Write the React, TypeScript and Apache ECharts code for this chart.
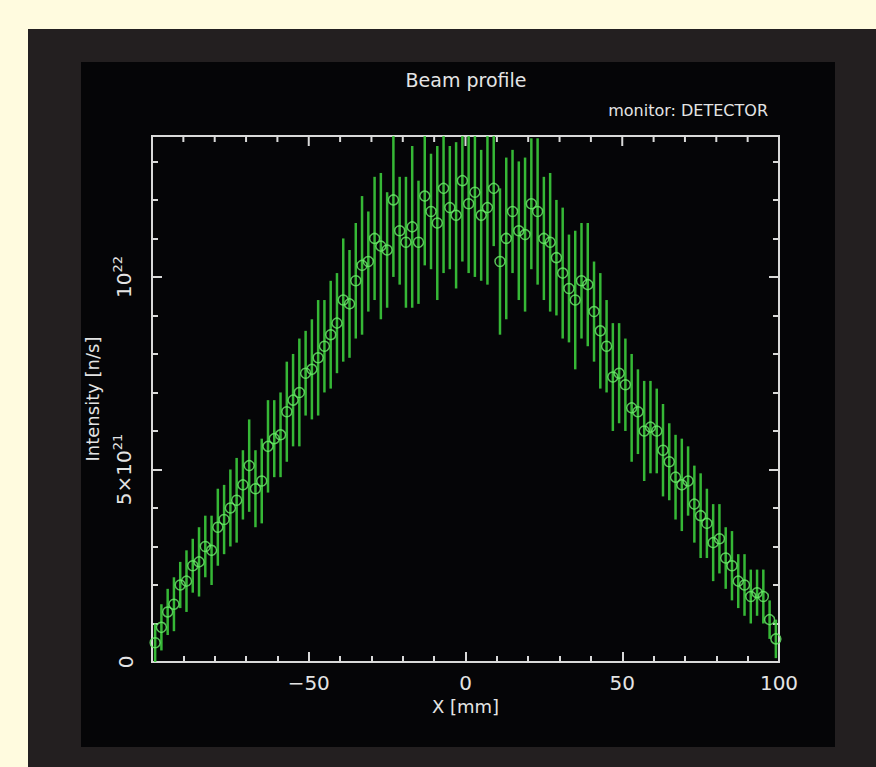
import React, { useEffect, useRef } from "react";
import * as echarts from "echarts";

// Bin centres (mm)
const xPos: number[] = [
  -99, -97, -95, -93, -91, -89, -87, -85, -83, -81,
  -79, -77, -75, -73, -71, -69, -67, -65, -63, -61,
  -59, -57, -55, -53, -51, -49, -47, -45, -43, -41,
  -39, -37, -35, -33, -31, -29, -27, -25, -23, -21,
  -19, -17, -15, -13, -11, -9, -7, -5, -3, -1,
  1, 3, 5, 7, 9, 11, 13, 15, 17, 19,
  21, 23, 25, 27, 29, 31, 33, 35, 37, 39,
  41, 43, 45, 47, 49, 51, 53, 55, 57, 59,
  61, 63, 65, 67, 69, 71, 73, 75, 77, 79,
  81, 83, 85, 87, 89, 91, 93, 95, 97, 99,
];

// Intensity in units of 1e21 n/s
const intensity: number[] = [
  0.5, 0.9, 1.3, 1.5, 2.0, 2.1, 2.5, 2.6, 3.0, 2.9,
  3.5, 3.7, 4.0, 4.2, 4.6, 5.1, 4.5, 4.7, 5.6, 5.8,
  5.9, 6.5, 6.8, 7.0, 7.5, 7.6, 7.9, 8.2, 8.5, 8.8,
  9.4, 9.3, 9.9, 10.3, 10.4, 11.0, 10.8, 10.7, 12.0, 11.2,
  10.9, 11.3, 10.9, 12.1, 11.7, 11.4, 12.3, 11.8, 11.6, 12.5,
  11.9, 12.2, 11.6, 11.8, 12.3, 10.4, 11.0, 11.7, 11.2, 11.1,
  11.9, 11.7, 11.0, 10.9, 10.5, 10.1, 9.7, 9.4, 9.9, 9.8,
  9.1, 8.6, 8.2, 7.4, 7.5, 7.2, 6.6, 6.5, 6.0, 6.1,
  6.0, 5.5, 5.2, 4.8, 4.6, 4.7, 4.1, 3.8, 3.6, 3.1,
  3.2, 2.7, 2.5, 2.1, 2.0, 1.7, 1.8, 1.7, 1.1, 0.6,
];

// Error (half length) in units of 1e21 n/s
const errors: number[] = [
  0.5, 0.6, 0.6, 0.7, 0.6, 0.8, 0.7, 0.9, 0.8, 0.9,
  1.0, 0.9, 1.0, 1.1, 0.9, 1.2, 1.0, 1.1, 1.2, 1.0,
  1.1, 1.3, 1.2, 1.4, 1.1, 1.3, 1.5, 1.2, 1.4, 1.3,
  1.6, 1.4, 1.5, 1.8, 1.3, 1.6, 1.9, 1.5, 2.0, 1.4,
  1.7, 2.1, 1.6, 1.8, 1.5, 2.0, 2.2, 1.6, 1.9, 2.1,
  1.8, 2.2, 1.7, 2.0, 1.5, 1.9, 2.1, 1.6, 1.8, 2.0,
  1.7, 1.9, 1.6, 1.8, 1.5, 1.7, 1.4, 1.8, 1.5, 1.6,
  1.3, 1.5, 1.2, 1.4, 1.3, 1.2, 1.4, 1.1, 1.3, 1.2,
  1.1, 1.2, 1.0, 1.1, 1.2, 0.9, 1.0, 1.1, 0.9, 1.0,
  0.9, 0.8, 0.9, 0.7, 0.8, 0.7, 0.6, 0.7, 0.5, 0.5,
];

// Tick positions along the top edge of the frame (mm); majors every 50
const topTicks: number[] = [-90, -80, -70, -60, -50, -40, -30, -20, -10, 0, 10, 20, 30, 40, 50, 60, 70, 80, 90];
const topMajor: number[] = [-50, 0, 50];

const xTickLabels: Record<number, string> = { [-50]: "\u221250", 0: "0", 50: "50", 100: "100" };
const yTickLabels: Record<number, string> = { 0: "{n|0}", 5: "{n|5×10}{s|21}", 10: "{n|10}{s|22}" };

const X_MIN = -100;
const X_MAX = 100;
const Y_MIN = 0;
const Y_MAX = 13.66;

const FONT = "DejaVu Sans";
const AXIS_COLOR = "#d9d9d9";
const TEXT_COLOR = "#e4e4e4";

export default function App() {
  const ref = useRef<HTMLDivElement>(null);
  useEffect(() => {
    if (!ref.current) return;
    const chart = echarts.init(ref.current, undefined, { renderer: "svg" });

    const points = xPos.map((x, i) => [x, intensity[i]]);
    const bars = xPos.map((x, i) => [x, intensity[i] - errors[i], intensity[i] + errors[i]]);
    const topTickData = topTicks.map((v) => [v, Y_MAX, topMajor.includes(v) ? 1 : 0]);

    const baseX = (major: boolean, show: boolean) => ({
      type: "value",
      position: "bottom",
      min: X_MIN,
      max: X_MAX,
      interval: major ? 50 : 10,
      axisLine: { show, lineStyle: { color: AXIS_COLOR, width: 2 } },
      axisTick: { show: true, inside: true, length: major ? 10 : 6, lineStyle: { color: AXIS_COLOR, width: 2 } },
      axisLabel: {
        show: major,
        color: TEXT_COLOR,
        fontFamily: FONT,
        fontSize: 20,
        margin: 11,
        formatter: (v: number) => xTickLabels[v] ?? "",
      },
      splitLine: { show: false },
    });

    const baseY = (pos: "left" | "right", major: boolean, show: boolean) => ({
      type: "value",
      position: pos,
      min: Y_MIN,
      max: Y_MAX,
      interval: major ? 5 : 1,
      axisLine: { show, onZero: false, lineStyle: { color: AXIS_COLOR, width: 2 } },
      axisTick: { show: true, inside: true, length: major ? 10 : 6, lineStyle: { color: AXIS_COLOR, width: 2 } },
      axisLabel: {
        show: pos === "left" && major,
        color: TEXT_COLOR,
        fontFamily: FONT,
        rotate: 90,
        margin: 16,
        showMaxLabel: false,
        formatter: (v: number) => yTickLabels[v] ?? "",
        rich: {
          n: { fontFamily: FONT, fontSize: 20, color: TEXT_COLOR },
          s: { fontFamily: FONT, fontSize: 13, color: TEXT_COLOR, verticalAlign: "top", padding: [0, 0, 12, 0] },
        },
      },
      splitLine: { show: false },
    });

    const xAxes: any[] = [
      { ...baseX(true, true), name: "X [mm]", nameLocation: "middle", nameGap: 34, nameTextStyle: { color: TEXT_COLOR, fontFamily: FONT, fontSize: 18 } },
      baseX(false, false),
    ];
    const yAxes: any[] = [
      { ...baseY("left", true, true), name: "Intensity [n/s]", nameLocation: "middle", nameGap: 51, nameRotate: 90, nameTextStyle: { color: TEXT_COLOR, fontFamily: FONT, fontSize: 18 } },
      baseY("left", false, false),
      baseY("right", true, true),
      baseY("right", false, false),
    ];

    chart.setOption({
      animation: false,
      backgroundColor: "#fffbdf",
      grid: { left: 152, top: 136, right: 97, bottom: 105, containLabel: false, show: true, borderColor: AXIS_COLOR, borderWidth: 2, backgroundColor: "transparent" },
      graphic: [
        { type: "rect", z: -10, silent: true, shape: { x: 28, y: 29, width: 876 - 28, height: 767 - 29 }, style: { fill: "#231f20" } },
        { type: "rect", z: -9, silent: true, shape: { x: 81, y: 62, width: 835 - 81, height: 747 - 62 }, style: { fill: "#050507" } },
        { type: "text", x: 466, y: 80, style: { text: "Beam profile", fill: TEXT_COLOR, font: `19px "${FONT}"`, align: "center", verticalAlign: "middle" } },
        { type: "text", x: 768, y: 110, style: { text: "monitor: DETECTOR", fill: TEXT_COLOR, font: `16px "${FONT}"`, align: "right", verticalAlign: "middle" } },
      ],
      xAxis: xAxes,
      yAxis: yAxes,
      series: [
        {
          type: "custom",
          xAxisIndex: 0,
          yAxisIndex: 0,
          clip: true,
          data: bars,
          renderItem: (params: any, api: any) => {
            const x = api.value(0);
            const p1 = api.coord([x, api.value(1)]);
            const p2 = api.coord([x, api.value(2)]);
            return {
              type: "line",
              shape: { x1: p1[0], y1: p1[1], x2: p2[0], y2: p2[1] },
              style: { stroke: "#3ccc3c", lineWidth: 2.5, opacity: 0.9 },
            };
          },
          z: 2,
        },
        {
          type: "scatter",
          xAxisIndex: 0,
          yAxisIndex: 0,
          data: points,
          symbol: "circle",
          symbolSize: 10,
          itemStyle: { color: "rgba(0,0,0,0)", borderColor: "#6cec6c", borderWidth: 1.5 },
          z: 3,
        },
        {
          // tick marks along the top edge of the frame
          type: "custom",
          xAxisIndex: 0,
          yAxisIndex: 0,
          clip: false,
          silent: true,
          data: topTickData,
          renderItem: (params: any, api: any) => {
            const p = api.coord([api.value(0), api.value(1)]);
            const len = api.value(2) ? 10 : 6;
            return {
              type: "line",
              shape: { x1: p[0], y1: p[1], x2: p[0], y2: p[1] + len },
              style: { stroke: AXIS_COLOR, lineWidth: 2 },
            };
          },
          z: 4,
        },
      ],
    });
    return () => chart.dispose();
  }, []);
  return <div ref={ref} style={{ position: "absolute", left: 0, top: 0, width: 876, height: 767 }} />;
}
